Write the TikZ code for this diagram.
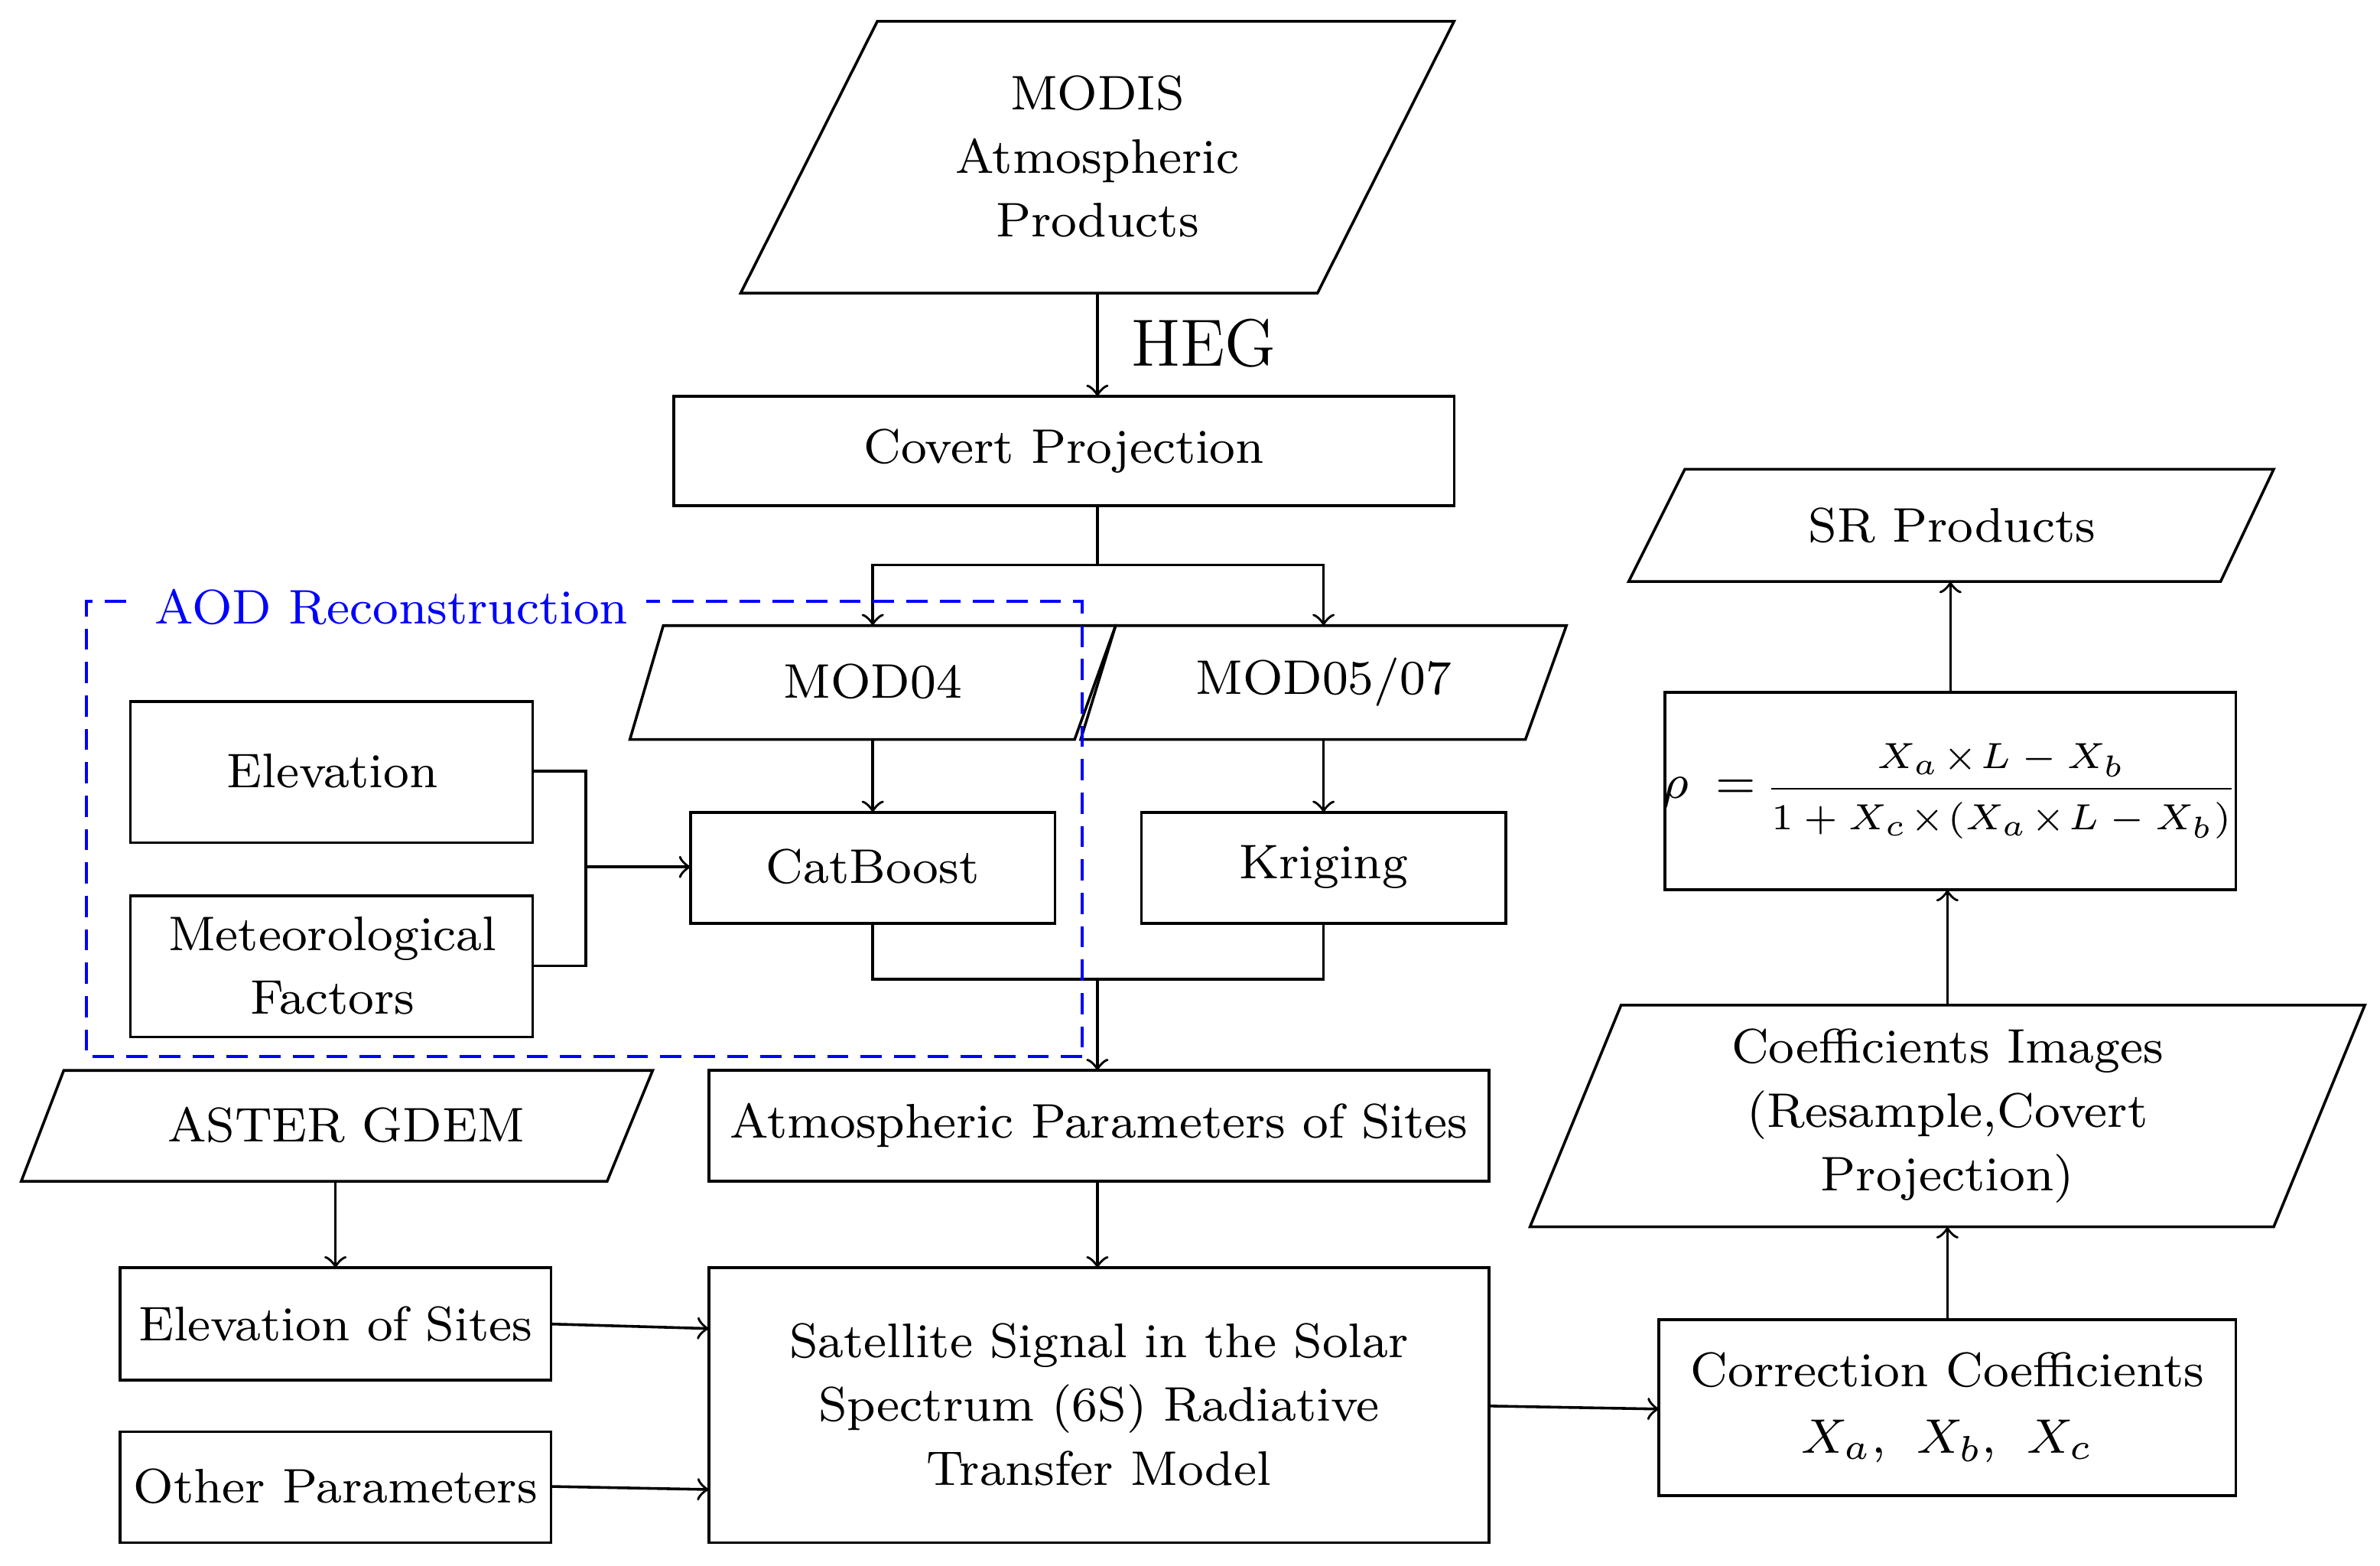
\documentclass[tikz,border=0pt]{standalone}
\usepackage{amsmath}
\begin{document}
\begin{tikzpicture}[x=0.25pt,y=-0.25pt,line width=0.45pt,
  box/.style={draw,rectangle},
  txt/.style={font=\fontsize{8}{10}\selectfont,align=center,inner sep=0pt},
  arr/.style={->,>=to}]
\useasboundingbox (0,0) rectangle (1568,1031);
% MODIS
\draw (578,14)--(958,14)--(868,193)--(488,193)--cycle;
\node[txt] (modis) at (723,103) {MODIS\\[0.5pt]Atmospheric\\[0.5pt]Products};
\node[txt,font=\fontsize{11}{13}\selectfont] (heg) at (793,226) {HEG};
\draw[box] (444,261) rectangle (958,333);
\node[txt] (cp) at (701,297) {Covert Projection};
\coordinate (m1) at (723,193); \coordinate (m2) at (723,261);
\draw[arr] (m1)--(m2);
\coordinate (c1) at (723,333); \coordinate (c2) at (723,372);
\coordinate (l1) at (575,372); \coordinate (r1) at (872,372);
\coordinate (l2) at (575,412); \coordinate (r2) at (872,412);
\draw (c1)--(c2); \draw[arr] (c2)--(l1)--(l2); \draw[arr] (c2)--(r1)--(r2);
% MOD04 / MOD05
\draw (437,412)--(735,412)--(708,487)--(415,487)--cycle;
\node[txt] (mod04) at (575,449) {MOD04};
\draw (735,412)--(1032,412)--(1005,487)--(712,487)--cycle;
\node[txt] (mod05) at (872,449) {MOD05/07};
\coordinate (a1) at (575,487); \coordinate (a2) at (575,535);
\coordinate (b1) at (872,487); \coordinate (b2) at (872,535);
\draw[arr] (a1)--(a2); \draw[arr] (b1)--(b2);
\draw[box] (455,535) rectangle (695,608);
\node[txt] (cat) at (575,571) {CatBoost};
\draw[box] (752,535) rectangle (992,608);
\node[txt] (kri) at (872,571) {Kriging};
\coordinate (a3) at (575,608); \coordinate (a4) at (575,645);
\coordinate (b3) at (872,608); \coordinate (b4) at (872,645);
\coordinate (j1) at (723,645); \coordinate (j2) at (723,705);
\draw (a3)--(a4)--(b4)--(b3); \draw[arr] (j1)--(j2);
% Elevation / Meteorological
\draw[box] (86,462) rectangle (351,555);
\node[txt] (elev) at (219,508) {Elevation};
\draw[box] (86,590) rectangle (351,683);
\node[txt] (met) at (219,636) {Meteorological\\[0.5pt]Factors};
\coordinate (e1) at (351,508); \coordinate (e2) at (386,508);
\coordinate (e3) at (386,636); \coordinate (e4) at (351,636);
\coordinate (e5) at (386,571); \coordinate (e6) at (455,571);
\draw (e1)--(e2)--(e3)--(e4); \draw[arr] (e5)--(e6);
% AOD box
\draw[blue,line width=0.5pt,dash pattern=on 3.5pt off 2pt] (713,696)--(57,696)--(57,396)--(713,396)--cycle;
\node[txt,blue,fill=white,inner xsep=3pt] (aod) at (258,400) {AOD Reconstruction};
% ASTER
\draw (42,705)--(430,705)--(400,778)--(14,778)--cycle;
\node[txt] (aster) at (228,741) {ASTER GDEM};
\draw[box] (467,705) rectangle (981,778);
\node[txt] (atm) at (724,741) {Atmospheric Parameters of Sites};
\coordinate (s1) at (221,778); \coordinate (s2) at (221,835);
\draw[arr] (s1)--(s2);
\draw[box] (79,835) rectangle (363,909);
\node[txt] (eos) at (221,872) {Elevation of Sites};
\draw[box] (79,943) rectangle (363,1016);
\node[txt] (oth) at (221,979) {Other Parameters};
\draw[box] (467,835) rectangle (981,1016);
\node[txt] (six) at (724,925) {Satellite Signal in the Solar\\[0.5pt]Spectrum (6S) Radiative\\[0.5pt]Transfer Model};
\coordinate (t1) at (723,778); \coordinate (t2) at (723,835);
\draw[arr] (t1)--(t2);
\coordinate (u1) at (363,872); \coordinate (u2) at (467,875);
\coordinate (v1) at (363,979); \coordinate (v2) at (467,981);
\draw[arr] (u1)--(u2); \draw[arr] (v1)--(v2);
\coordinate (w1) at (981,926); \coordinate (w2) at (1093,928);
\draw[arr] (w1)--(w2);
% right column
\draw[box] (1093,869) rectangle (1473,985);
\node[txt] (cc) at (1283,927) {Correction Coefficients\\[1pt]$X_a$,\; $X_b$,\; $X_c$};
\coordinate (x1) at (1283,869); \coordinate (x2) at (1283,808);
\draw[arr] (x1)--(x2);
\draw (1068,662)--(1558,662)--(1498,808)--(1008,808)--cycle;
\node[txt] (ci) at (1283,735) {Coefficients Images\\[0.5pt](Resample,Covert\\[0.5pt]Projection)};
\coordinate (y1) at (1283,662); \coordinate (y2) at (1283,586);
\draw[arr] (y1)--(y2);
\draw[box] (1097,456) rectangle (1473,586);
\node[txt] (form) at (1285,521) {$\rho$\;\;=\,{\fontsize{5.8}{7}\selectfont$\dfrac{X_a\!\times\! L-X_b}{1+X_c\!\times\!(X_a\!\times\! L-X_b)}$}};
\coordinate (z1) at (1285,456); \coordinate (z2) at (1285,383);
\draw[arr] (z1)--(z2);
\draw (1110,309)--(1498,309)--(1463,383)--(1073,383)--cycle;
\node[txt] (sr) at (1286,346) {SR Products};
\end{tikzpicture}
\end{document}
